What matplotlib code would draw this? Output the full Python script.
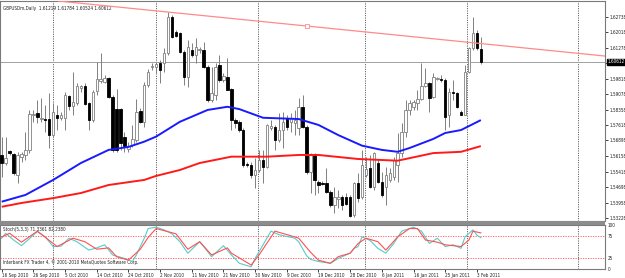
import matplotlib
matplotlib.use('Agg')
import matplotlib.pyplot as plt
import matplotlib.transforms as mtransforms
from matplotlib import font_manager as fm
import numpy as np

# ---------------- data ----------------
opens = [1.5621,1.5583,1.5640,1.5626,1.5526,1.5611,1.5621,1.5645,1.5810,1.5820,
         1.5791,1.5791,1.5791,1.5715,1.5810,1.5796,1.5796,1.5900,1.5853,1.5867,
         1.5938,1.5947,1.5867,1.5786,1.5924,1.5971,1.5966,1.5985,1.5895,1.5838,
         1.5838,1.5706,1.5649,1.5668,1.5692,1.5829,1.5777,1.5952,1.6037,1.6037,
         1.6056,1.6056,1.6103,1.6274,1.6203,1.6198,1.6108,1.5990,1.6118,1.6094,
         1.6118,1.6118,1.6037,1.5881,1.5905,1.6047,1.5976,1.5990,1.5933,1.5786,
         1.5777,1.5739,1.5578,1.5574,1.5526,1.5550,1.5597,1.5564,1.5749,1.5753,
         1.5692,1.5739,1.5796,1.5777,1.5772,1.5749,1.5848,1.5753,1.5540,1.5621,
         1.5493,1.5488,1.5488,1.5446,1.5384,1.5413,1.5422,1.5422,1.5422,1.5337,
         1.5488,1.5422,1.5526,1.5559,1.5469,1.5583,1.5493,1.5469,1.5503,1.5517,
         1.5574,1.5630,1.5730,1.5834,1.5848,1.5867,1.5886,1.5947,1.5961,1.5895,
         1.5980,1.5980,1.5976,1.5810,1.5919,1.5914,1.5824,1.5810,1.6013,1.6127,
         1.6198,1.6122]
highs = [1.5706,1.5706,1.5645,1.5630,1.5635,1.5635,1.5730,1.5834,1.5834,1.5881,
         1.5890,1.5857,1.5914,1.5867,1.5857,1.5824,1.5919,1.5905,1.6013,1.5961,
         1.5952,1.5961,1.5872,1.5928,1.6061,1.6103,1.5999,1.5990,1.5905,1.5933,
         1.5843,1.5730,1.5682,1.5763,1.5886,1.5843,1.5966,1.6028,1.6056,1.6061,
         1.6070,1.6127,1.6297,1.6283,1.6212,1.6203,1.6118,1.6165,1.6151,1.6174,
         1.6132,1.6155,1.6047,1.6037,1.6056,1.6094,1.6009,1.6080,1.5938,1.5796,
         1.5786,1.5749,1.5588,1.5588,1.5607,1.5645,1.5645,1.5767,1.5786,1.5763,
         1.5820,1.5824,1.5810,1.5820,1.5834,1.5890,1.5905,1.5763,1.5630,1.5630,
         1.5503,1.5498,1.5559,1.5455,1.5469,1.5455,1.5432,1.5441,1.5432,1.5493,
         1.5536,1.5645,1.5611,1.5621,1.5635,1.5597,1.5540,1.5564,1.5559,1.5611,
         1.5725,1.5772,1.5881,1.5881,1.5881,1.5928,1.6056,1.6032,1.5966,1.6009,
         1.5990,1.5999,1.5985,1.5938,1.5976,1.5919,1.5834,1.6047,1.6132,1.6274,
         1.6212,1.6178]
lows = [1.5517,1.5574,1.5621,1.5526,1.5488,1.5588,1.5597,1.5630,1.5777,1.5772,
        1.5777,1.5730,1.5654,1.5706,1.5739,1.5786,1.5739,1.5834,1.5810,1.5857,
        1.5919,1.5857,1.5739,1.5777,1.5905,1.5961,1.5961,1.5890,1.5635,1.5635,
        1.5645,1.5635,1.5635,1.5659,1.5682,1.5772,1.5753,1.5942,1.6023,1.6009,
        1.5961,1.6013,1.6094,1.6174,1.6179,1.6103,1.5952,1.5942,1.6084,1.6056,
        1.6103,1.6032,1.5872,1.5872,1.5881,1.5966,1.5966,1.5928,1.5739,1.5749,
        1.5730,1.5564,1.5564,1.5512,1.5465,1.5540,1.5488,1.5559,1.5739,1.5645,
        1.5682,1.5654,1.5739,1.5730,1.5715,1.5715,1.5749,1.5531,1.5441,1.5432,
        1.5441,1.5479,1.5441,1.5375,1.5347,1.5370,1.5361,1.5384,1.5328,1.5328,
        1.5399,1.5413,1.5517,1.5465,1.5455,1.5488,1.5422,1.5384,1.5493,1.5503,
        1.5493,1.5611,1.5706,1.5810,1.5834,1.5834,1.5881,1.5942,1.5824,1.5890,
        1.5976,1.5966,1.5739,1.5753,1.5881,1.5843,1.5810,1.5810,1.6009,1.6118,
        1.6118,1.6052]
closes = [1.5583,1.5607,1.5630,1.5536,1.5621,1.5626,1.5645,1.5815,1.5815,1.5801,
          1.5796,1.5786,1.5715,1.5824,1.5796,1.5810,1.5905,1.5853,1.5872,1.5947,
          1.5947,1.5862,1.5786,1.5919,1.5980,1.5980,1.5985,1.5895,1.5645,1.5645,
          1.5678,1.5663,1.5663,1.5697,1.5824,1.5777,1.5952,1.6013,1.6042,1.6051,
          1.6023,1.6103,1.6274,1.6179,1.6184,1.6108,1.5990,1.6132,1.6094,1.6132,
          1.6122,1.6037,1.5881,1.5914,1.6037,1.5976,1.5995,1.5928,1.5786,1.5772,
          1.5739,1.5574,1.5574,1.5526,1.5550,1.5597,1.5564,1.5763,1.5758,1.5692,
          1.5739,1.5777,1.5753,1.5796,1.5786,1.5848,1.5753,1.5540,1.5621,1.5503,
          1.5479,1.5484,1.5446,1.5384,1.5422,1.5422,1.5384,1.5389,1.5332,1.5488,
          1.5417,1.5574,1.5555,1.5469,1.5630,1.5493,1.5432,1.5526,1.5536,1.5597,
          1.5630,1.5730,1.5834,1.5867,1.5872,1.5886,1.5947,1.5961,1.5890,1.5990,
          1.5985,1.5976,1.5801,1.5919,1.5914,1.5848,1.5810,1.6013,1.6127,1.6198,
          1.6127,1.6061]

ma_fast_bars = [0,6,13,20,27,32,36,39,45,52,57,60,66,75,80,85,91,96,100,103,109,112,116,121]
ma_fast = [1.5400,1.5432,1.5503,1.5583,1.5645,1.5659,1.5684,1.5708,1.5778,1.5834,1.5849,1.5838,
           1.5797,1.5791,1.5763,1.5715,1.5665,1.5645,1.5636,1.5654,1.5697,1.5725,1.5739,1.5786]
ma_slow_bars = [0,5,13,20,27,36,39,45,50,58,67,75,80,90,100,109,116,121]
ma_slow = [1.5376,1.5394,1.5417,1.5441,1.5479,1.5503,1.5522,1.5550,1.5583,1.5613,1.5613,1.5621,
           1.5621,1.5602,1.5594,1.5630,1.5636,1.5663]

trend_bars = [42, 77]
trend_prices = [1.6297, 1.6231]

stoch_k_bars = [0,1,3,5,8,9,11,13,15,17,19,22,24,26,28,31,33,34,36,37,39,41,43,45,47,50,51,53,56,58,
                60,63,64,68,70,74,75,77,78,80,83,85,88,89,90,91,93,95,97,99,101,104,106,108,110,112,
                114,116,117,119,120,121]
stoch_k = [70,81,66,53,77,85,73,51,52,70,62,43,48,55,32,24,17,32,70,92,95,89,80,62,36,62,51,28,53,32,
           13,5,24,86,78,70,62,30,22,17,13,24,36,47,51,73,65,47,36,58,86,95,86,58,70,51,55,47,73,89,77,71]
stoch_d_bars = [0,2,5,9,14,18,21,24,27,29,32,35,37,39,44,47,50,53,57,58,63,65,69,74,75,78,80,83,85,88,
                90,92,95,97,100,103,105,107,110,112,116,118,119,120,121]
stoch_d = [73,81,61,86,51,70,62,45,48,28,20,45,72,92,80,45,62,32,48,36,9,32,86,73,70,38,20,13,28,36,
           58,70,62,43,73,92,92,66,61,55,51,66,86,84,82]
stoch_levels = [75, 25]

price_ticks = [1.62738,1.62018,1.61278,1.60538,1.59818,1.59078,1.58358,1.57618,
               1.56898,1.56158,1.55418,1.54698,1.53958,1.53228]
date_bars = [0,8,16,24,32,40,48,56,64,72,80,88,96,104,112,120]
date_labels = ['16 Sep 2010','26 Sep 2010','5 Oct 2010','14 Oct 2010','24 Oct 2010',
               '2 Nov 2010','11 Nov 2010','21 Nov 2010','30 Nov 2010','9 Dec 2010',
               '19 Dec 2010','28 Dec 2010','6 Jan 2011','16 Jan 2011','25 Jan 2011','3 Feb 2011']
month_bars = [12.95, 38.9, 64.7, 91.7, 117.5, 145.5]

header = 'GBPUSDm,Daily  1.61219 1.61784 1.60524 1.60612'
stoch_title = 'Stoch(5,3,3) 71.3361 82.2380'
copyright_text = 'Interbank FX Trader 4, \u00a9 2001-2010 MetaQuotes Software Corp.'
bid_text = '1.60612'

# ---------------- font: prefer a narrow face, then size it to the reference width ----------------
font_path = None
prefs = ['LiberationSansNarrow-Regular', 'DejaVuSansCondensed.ttf', 'Condensed-Regular', 'Narrow']
files = [f.fname for f in fm.fontManager.ttflist]
for p in prefs:
    hits = [f for f in files if p.lower() in f.lower() and 'bold' not in f.lower()
            and 'italic' not in f.lower() and 'oblique' not in f.lower()]
    if hits:
        font_path = sorted(hits, key=len)[0]
        break
if font_path:
    FP = fm.FontProperties(fname=font_path, size=4.0)
else:
    FP = fm.FontProperties(family='DejaVu Sans', size=4.0)

W, H = 625, 278
fig = plt.figure(figsize=(W/100, H/100), dpi=100)
fig.patch.set_facecolor('white')

# scale the font so the header is about as wide as in the reference (~107 px)
_probe = fig.text(0, 0, header, fontproperties=FP)
_w = _probe.get_window_extent(renderer=fig.canvas.get_renderer()).width
_probe.remove()
FP.set_size(4.0 * 107.0 / _w)

def box(x0, y0, x1, y1):
    return [x0/W, 1-y1/H, (x1-x0)/W, (y1-y0)/H]

ax = fig.add_axes(box(0, 1, 605, 221))
sub = fig.add_axes(box(0, 225, 605, 269))
fig.patches.append(plt.Rectangle((0, 1-225/H), 605/W, 4/H, transform=fig.transFigure,
                                 facecolor='#8c8c8c', edgecolor='none'))

XL = (-0.43, 152.35)
for a in (ax, sub):
    a.set_xlim(*XL)
    for s in a.spines.values():
        s.set_color('#7a7a7a')
        s.set_linewidth(0.8)
    a.set_facecolor('white')
    for mb in month_bars:
        a.axvline(mb, color='#303030', lw=0.6, ls=(0, (1.2, 1.6)), zorder=1)

ax.set_ylim(1.53087, 1.63493)

idx = np.arange(len(opens))
o = np.array(opens); c = np.array(closes)
hi = np.array(highs); lo = np.array(lows)
up = c >= o

ax.vlines(idx, lo, hi, color='#808080', lw=0.7, zorder=3)
ax.bar(idx[up], (c - o)[up], bottom=o[up], width=0.62, color='white',
       edgecolor='#808080', linewidth=0.6, zorder=4)
ax.bar(idx[~up], (o - c)[~up], bottom=c[~up], width=0.62, color='black',
       edgecolor='black', linewidth=0.6, zorder=4)

ax.plot(ma_fast_bars, ma_fast, color='#1a1aff', lw=1.4, zorder=5, solid_capstyle='butt')
ax.plot(ma_slow_bars, ma_slow, color='#ff1a1a', lw=1.4, zorder=5, solid_capstyle='butt')

ax.axline((trend_bars[0], trend_prices[0]), (trend_bars[1], trend_prices[1]),
          color='#ff8a8a', lw=0.9, zorder=6)
ax.plot([trend_bars[1]], [trend_prices[1]], marker='s', ms=2.2, mfc='white',
        mec='#ff8a8a', mew=0.6, zorder=7)

ax.axhline(closes[-1], color='#a0a0a0', lw=0.7, zorder=2)

ax.yaxis.tick_right()
ax.set_yticks(price_ticks)
ax.set_yticklabels(['%.5f' % v for v in price_ticks])
ax.tick_params(axis='y', length=2, width=0.6, pad=1, colors='#202020')
ax.tick_params(axis='x', bottom=False, labelbottom=False)
for lbl in ax.get_yticklabels():
    lbl.set_fontproperties(FP)

trans = mtransforms.blended_transform_factory(ax.transAxes, ax.transData)
ax.text(1.005, closes[-1], bid_text, transform=trans, fontproperties=FP, color='white',
        va='center', ha='left', zorder=10,
        bbox=dict(boxstyle='square,pad=0.15', facecolor='black', edgecolor='black'))
ax.text(3/605, 1-5/220, header, transform=ax.transAxes, fontproperties=FP, color='#202020',
        va='top', ha='left')

# ---------------- stochastic window ----------------
sub.set_ylim(0, 100)
for lv in stoch_levels:
    sub.axhline(lv, color='#ff5050', lw=0.6, ls=(0, (1.5, 1.5)), zorder=2)
sub.plot(stoch_k_bars, stoch_k, color='#55cccc', lw=0.8, zorder=4)
sub.plot(stoch_d_bars, stoch_d, color='#ff5050', lw=0.8, zorder=4)

sub.yaxis.tick_right()
sub.set_yticks([100, 75, 25, 0])
sub.set_yticklabels(['100', '75', '25', '0'])
sub.tick_params(axis='y', length=0, pad=2, colors='#202020')
sub.set_xticks(date_bars)
sub.set_xticklabels(date_labels, ha='left')
sub.tick_params(axis='x', length=2.5, width=0.6, pad=0.5, colors='#202020')
for lbl in sub.get_yticklabels() + sub.get_xticklabels():
    lbl.set_fontproperties(FP)

sub.text(3/605, 1-2/44, stoch_title, transform=sub.transAxes, fontproperties=FP, color='#202020',
         va='top', ha='left')
sub.text(3/605, 4/44, copyright_text, transform=sub.transAxes, fontproperties=FP, color='#202020',
         va='bottom', ha='left')

fig.savefig('out.png', dpi=100, facecolor='white')
